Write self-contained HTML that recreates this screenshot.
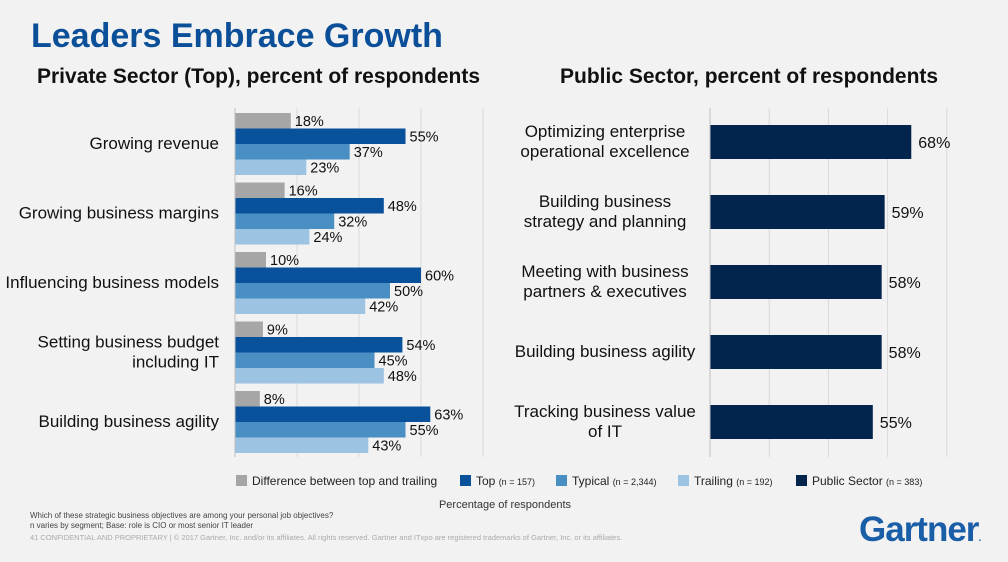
<!DOCTYPE html>
<html><head><meta charset="utf-8"><style>
body{margin:0;width:1008px;height:562px;background:#f2f2f2;overflow:hidden;font-family:"Liberation Sans",Arial,sans-serif}
svg{position:absolute;left:0;top:0}
</style></head><body>
<svg width="1008" height="562" id="s" font-family="Liberation Sans, Arial, sans-serif">
<text x="31" y="47" font-size="34" font-weight="bold" fill="#0b4f99">Leaders Embrace Growth</text>
<text x="37" y="83" font-size="21" font-weight="bold" fill="#111">Private Sector (Top), percent of respondents</text>
<text x="560" y="83" font-size="21" font-weight="bold" fill="#111">Public Sector, percent of respondents</text>
<g id="left"></g><g id="right"></g>
<g font-size="12" fill="#222">
<rect x="236" y="475" width="11" height="11" fill="#a6a6a6"/>
<text x="252" y="485">Difference between top and trailing</text>
<rect x="460" y="475" width="11" height="11" fill="#0a519c"/>
<text x="476" y="485">Top <tspan font-size="9">(n = 157)</tspan></text>
<rect x="556" y="475" width="11" height="11" fill="#4a8fc3"/>
<text x="572" y="485">Typical <tspan font-size="9">(n = 2,344)</tspan></text>
<rect x="678" y="475" width="11" height="11" fill="#9dc3e2"/>
<text x="694" y="485">Trailing <tspan font-size="9">(n = 192)</tspan></text>
<rect x="796" y="475" width="11" height="11" fill="#03244d"/>
<text x="812" y="485">Public Sector <tspan font-size="9">(n = 383)</tspan></text>
</g>
<text x="505" y="508" font-size="11" fill="#333" text-anchor="middle">Percentage of respondents</text>
<text x="30" y="518" font-size="8" fill="#444">Which of these strategic business objectives are among your personal job objectives?</text>
<text x="30" y="528" font-size="8" fill="#444">n varies by segment; Base: role is CIO or most senior IT leader</text>
<text x="30" y="540" font-size="7.5" fill="#aaa">41   CONFIDENTIAL AND PROPRIETARY  |  © 2017 Gartner, Inc. and/or its affiliates. All rights reserved. Gartner and ITxpo are registered trademarks of Gartner, Inc. or its affiliates.</text>
<text x="859" y="541" font-size="35" font-weight="bold" fill="#1a5ea8" letter-spacing="-1">Gartner<tspan font-size="10">.</tspan></text>
</svg>
<script>
const leftCats=[["Growing revenue"],["Growing business margins"],["Influencing business models"],["Setting business budget","including IT"],["Building business agility"]];
const diffVals=[18,16,10,9,8];
const topVals=[55,48,60,54,63];
const typicalVals=[37,32,50,45,55];
const trailingVals=[23,24,42,48,43];
const rightCats=[["Optimizing enterprise","operational excellence"],["Building business","strategy and planning"],["Meeting with business","partners & executives"],["Building business agility"],["Tracking business value","of IT"]];
const publicVals=[68,59,58,58,55];
const gridTicks=[20,40,60,80];
const NS="http://www.w3.org/2000/svg";
function mk(p,t,a){const e=document.createElementNS(NS,t);for(const k in a)e.setAttribute(k,a[k]);p.appendChild(e);return e;}
const L=document.getElementById('left'),R=document.getElementById('right');
const lx=v=>235+v*3.1, rx=v=>710+v*2.96;
gridTicks.forEach(t=>{
 const g=mk(L,'line',{x1:lx(t),x2:lx(t),y1:108,y2:457,stroke:'#d9d9d9'});
 
 
 const h=mk(R,'line',{x1:rx(t),x2:rx(t),y1:108,y2:457,stroke:'#d9d9d9'});
 
 
});
const series=[[diffVals,'#a6a6a6','difference'],[topVals,'#0a519c','top'],[typicalVals,'#4a8fc3','typical'],[trailingVals,'#9dc3e2','trailing']];
leftCats.forEach((c,i)=>{
 const y0=113+i*69.5;
 series.forEach((s,j)=>{
  const v=s[0][i],y=y0+j*15.5;
  const r=mk(L,'rect',{x:235,y:y,width:lx(v)-235,height:15.5,fill:s[1]});
  
  
  const t=mk(L,'text',{x:lx(v)+4,y:y+13,'font-size':14.5,fill:'#111'});t.textContent=v+'%';
  
  
 });
 const cy=y0+31;
 c.forEach((ln,k)=>{
  const t=mk(L,'text',{x:219,y:cy+5+(k-(c.length-1)/2)*20,'font-size':17,fill:'#111','text-anchor':'end'});t.textContent=ln;
  
  
 });
});
rightCats.forEach((c,i)=>{
 const cy=142+i*70,v=publicVals[i];
 const r=mk(R,'rect',{x:710,y:cy-17,width:rx(v)-710,height:34,fill:'#03244d'});
 
 
 const t=mk(R,'text',{x:rx(v)+7,y:cy+6,'font-size':16,fill:'#111'});t.textContent=v+'%';
 
 
 c.forEach((ln,k)=>{
  const u=mk(R,'text',{x:605,y:cy+5+(k-(c.length-1)/2)*20,'font-size':17,fill:'#111','text-anchor':'middle'});u.textContent=ln;
  
  
 });
});
const a1=mk(L,'line',{x1:235,x2:235,y1:108,y2:457,stroke:'#bfbfbf'});


const a2=mk(R,'line',{x1:710,x2:710,y1:108,y2:457,stroke:'#bfbfbf'});


</script>
</body></html>
